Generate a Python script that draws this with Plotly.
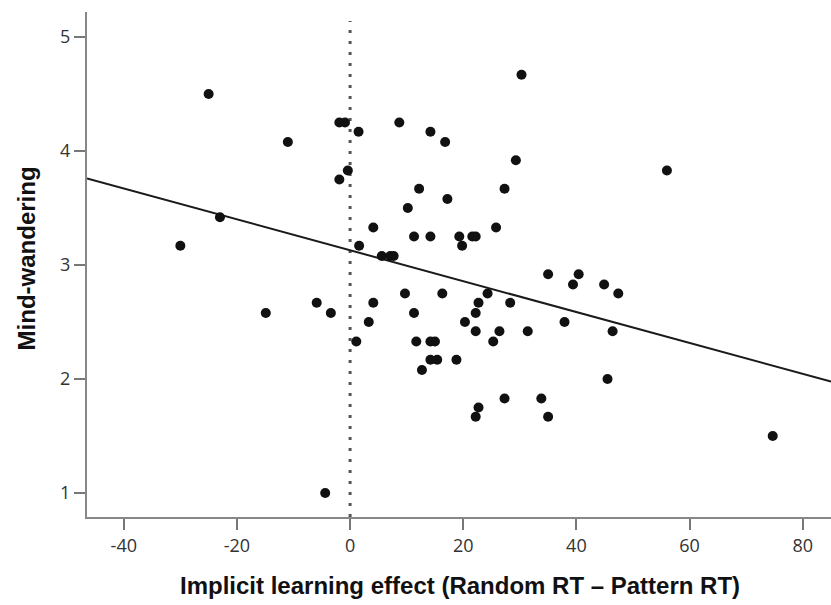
import plotly.graph_objects as go

# Implicit learning effect (Random RT - Pattern RT)
x_vals = [-25.0, -11.0, -1.9, -0.9, 1.5, -0.4, -1.9, -23.0, -30.0, 1.6,
          30.3, 8.7, 14.2, 16.8, 29.3, 12.2, 27.3, 17.2, 10.2, 4.1,
          25.8, 11.3, 14.2, 19.3, 21.6, 22.2, 19.8, 5.6, 7.1, 7.7,
          35.0, 40.4, 39.4, 44.9, 47.4, 24.3, 16.3, 9.7, 4.1, 22.7,
          28.3, 11.3, 22.2, 3.3, 20.3, 37.9, 22.2, 26.4, 31.4, 46.4,
          1.1, 11.7, 14.2, 15.0, 25.3, 14.2, 15.4, 18.8, 12.7, 45.5,
          27.3, 33.8, 22.7, 22.2, 35.0, -5.9, -14.9, -3.4, -4.4, 56.0,
          74.7]
# Mind-wandering score
y_vals = [4.50, 4.08, 4.25, 4.25, 4.17, 3.83, 3.75, 3.42, 3.17, 3.17,
          4.67, 4.25, 4.17, 4.08, 3.92, 3.67, 3.67, 3.58, 3.50, 3.33,
          3.33, 3.25, 3.25, 3.25, 3.25, 3.25, 3.17, 3.08, 3.08, 3.08,
          2.92, 2.92, 2.83, 2.83, 2.75, 2.75, 2.75, 2.75, 2.67, 2.67,
          2.67, 2.58, 2.58, 2.50, 2.50, 2.50, 2.42, 2.42, 2.42, 2.42,
          2.33, 2.33, 2.33, 2.33, 2.33, 2.17, 2.17, 2.17, 2.08, 2.00,
          1.83, 1.83, 1.75, 1.67, 1.67, 2.67, 2.58, 2.58, 1.00, 3.83,
          1.50]

# Fitted regression line
fit_intercept = 3.13
fit_slope = -0.01356
fit_x = [-46.5, 85.0]
fit_y = [fit_intercept + fit_slope * v for v in fit_x]

# Reference line at zero
ref_x = [0, 0]
ref_y = [0.79, 5.14]

x_ticks = [-40, -20, 0, 20, 40, 60, 80]
x_tick_text = ["-40", "-20", "0", "20", "40", "60", "80"]
y_ticks = [1, 2, 3, 4, 5]

fig = go.Figure()
fig.add_trace(go.Scatter(x=ref_x, y=ref_y, mode="lines",
                         line=dict(color="#555555", width=3, dash="3px,8px"),
                         hoverinfo="skip", showlegend=False))
fig.add_trace(go.Scatter(x=fit_x, y=fit_y, mode="lines",
                         line=dict(color="#1a1a1a", width=2),
                         showlegend=False))
fig.add_trace(go.Scatter(x=x_vals, y=y_vals, mode="markers",
                         marker=dict(color="#111111", size=10),
                         showlegend=False))

tickfont = dict(family="Open Sans, Liberation Sans, sans-serif", size=18, color="#333333")
axis_common = dict(ticks="outside", ticklen=11, tickcolor="#777777", tickwidth=1.5,
                   showline=True, linecolor="#888888", linewidth=2,
                   showgrid=False, zeroline=False, tickfont=tickfont)
fig.update_layout(
    width=831, height=605,
    margin=dict(l=87, r=0, t=12, b=88),
    paper_bgcolor="white", plot_bgcolor="white",
    xaxis=dict(range=[-46.5, 85.0], tickvals=x_ticks, ticktext=x_tick_text, **axis_common),
    yaxis=dict(range=[0.79, 5.22], tickvals=y_ticks, **axis_common),
    annotations=[
        dict(text="<b>Implicit learning effect (Random RT \u2013 Pattern RT)</b>",
             xref="paper", yref="paper", x=0.501, y=-0.136, xanchor="center", yanchor="middle",
             showarrow=False, font=dict(family="Liberation Sans, Arial, sans-serif", size=24, color="#111111")),
        dict(text="<b>Mind-wandering</b>",
             xref="paper", yref="paper", x=-0.082, y=0.512, xanchor="center", yanchor="middle",
             textangle=-90, showarrow=False,
             font=dict(family="Liberation Sans, Arial, sans-serif", size=24, color="#111111")),
    ],
)

fig.write_html("out.html",
               config={"displayModeBar": False},
               post_script="document.body.style.margin='0';document.body.style.overflow='hidden';")
